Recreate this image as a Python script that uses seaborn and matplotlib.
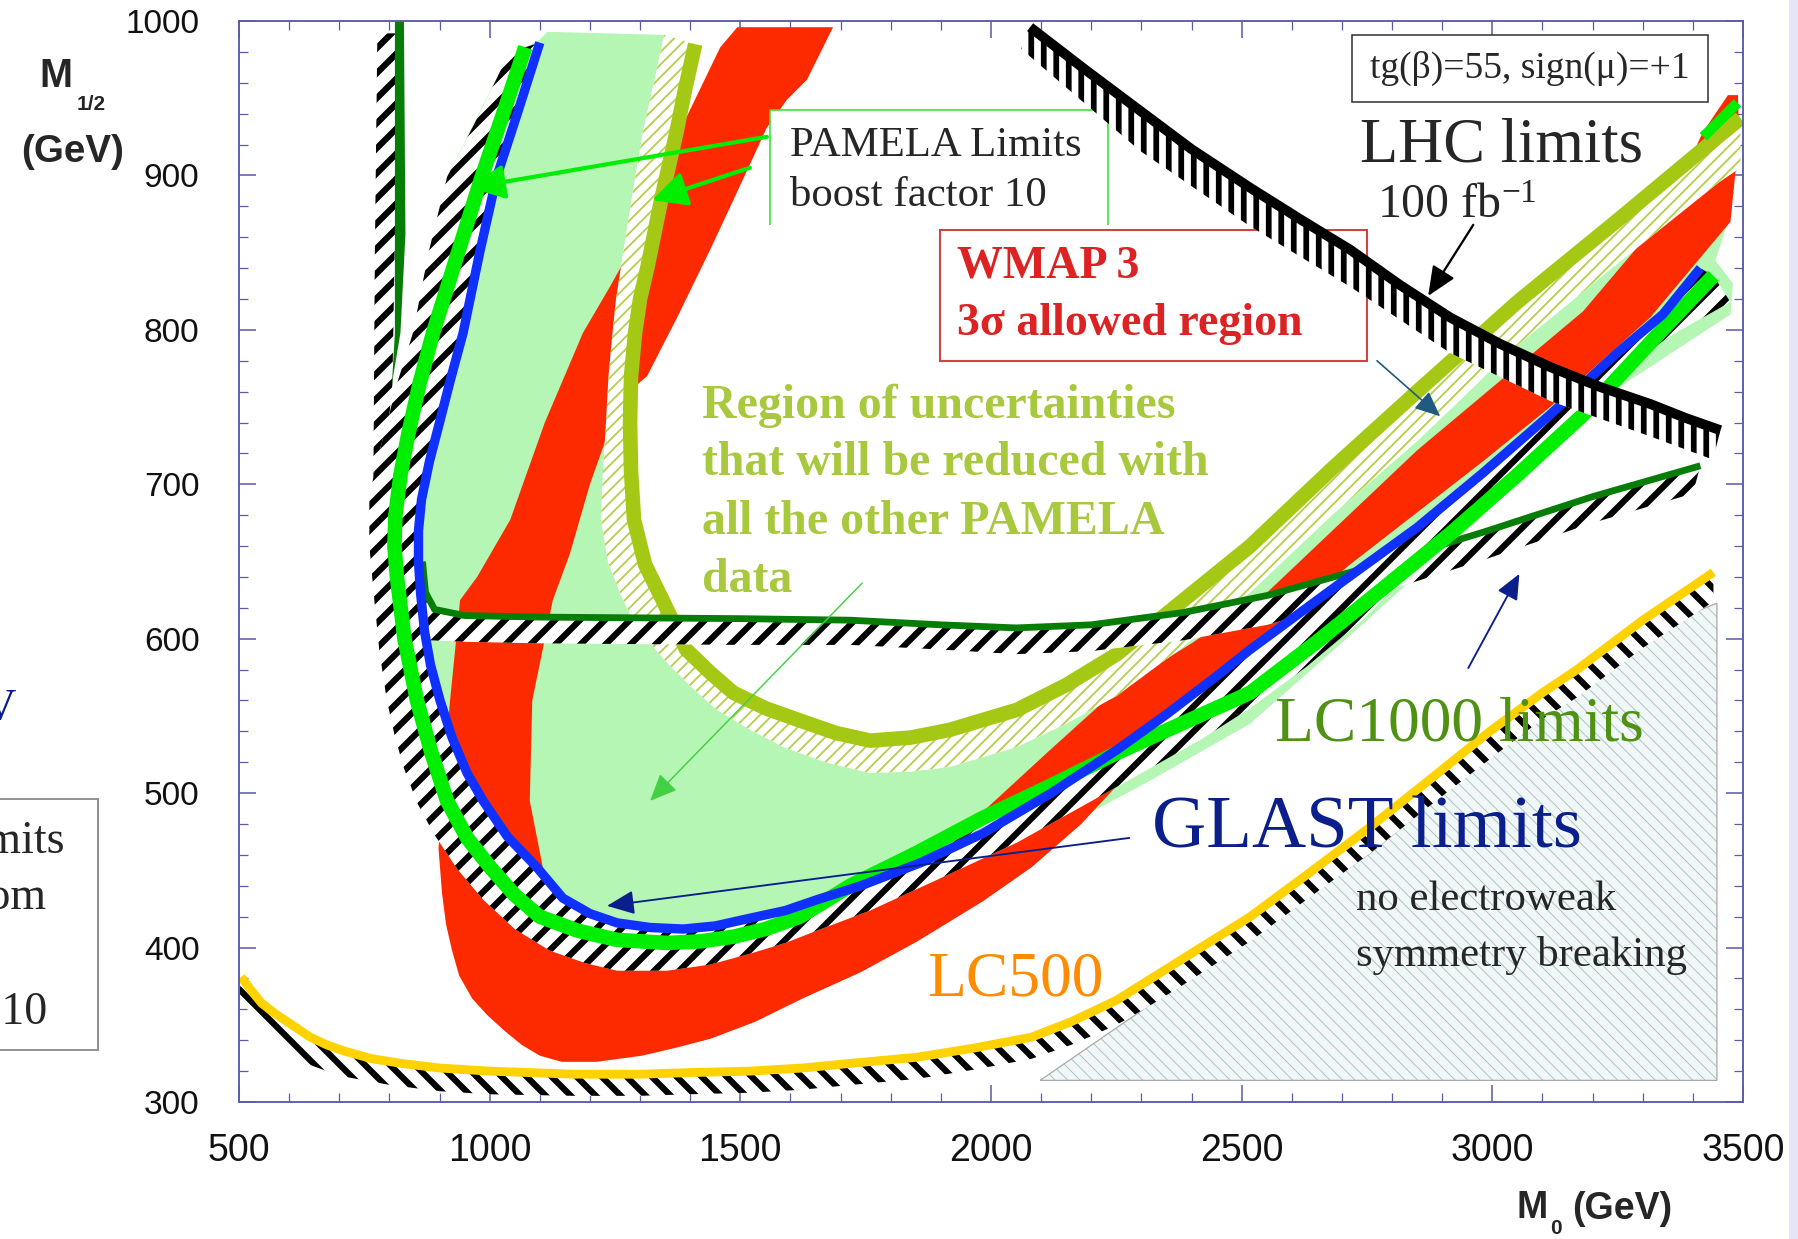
import matplotlib
matplotlib.use("Agg")
import matplotlib.pyplot as plt
import seaborn as sns
from matplotlib.patches import Rectangle

# ---------------- data : (M0 [GeV], M1/2 [GeV]) ----------------
x_major = [500, 1000, 1500, 2000, 2500, 3000, 3500]
y_major = [300, 400, 500, 600, 700, 800, 900, 1000]
x_minor = list(range(500, 3501, 100))
y_minor = list(range(300, 1001, 20))

# WMAP 3 sigma allowed region (red band)
wmap_region = [(1494,996),(1460,983),(1393,938),(1346,905),(1300,863),(1240,828),(1186,798),(1110,740),
               (1041,677),(975,640),(941,625),(921,560),(905,500),(898,464),(905,435),(913,415),(925,398),
               (939,382),(965,367),(996,356),(1030,346),(1064,337),(1100,330),(1144,326),(1213,326),
               (1304,330),(1370,335),(1441,341),(1530,352),(1624,367),(1740,384),(1853,404),(1984,430),
               (2081,452),(2180,480),(2280,515),(2400,560),(2517,593),(2716,648),(2982,715),(3115,750),
               (3315,808),(3475,870),(3492,925),(3490,952),(3470,952),(3420,928),(3340,873),(3181,812),
               (2850,722),(2551,630),(2400,597),(2251,567),(2118,528),(1984,488),(1800,440),(1600,415),
               (1400,405),(1250,410),(1160,425),(1106,452),(1080,495),(1085,560),(1126,625),(1160,655),
               (1200,700),(1260,755),(1314,770),(1374,808),(1440,852),(1499,893),(1553,931),(1593,949),
               (1633,962),(1659,979),(1685,996)]

# olive boundary of the "region of uncertainties" and its hatched outer edge
olive_line = [(1410,985),(1390,956),(1372,927),(1342,884),(1315,841),(1300,820),(1290,798),(1282,770),
              (1280,740),(1282,708),(1288,677),(1310,648),(1345,625),(1392,593),(1440,578),(1486,565),
              (1550,555),(1619,547),(1690,539),(1759,534),(1840,536),(1918,541),(2052,554),(2150,570),
              (2251,590),(2384,625),(2517,660),(2680,710),(2850,760),(3050,818),(3250,871),(3450,925),
              (3495,937)]
olive_edge = [(1348,991),(1327,959),(1305,927),(1283,884),(1262,841),(1252,820),(1245,798),(1237,770),
              (1232,740),(1226,708),(1222,677),(1236,650),(1262,628),(1295,606),(1358,583),(1405,568),
              (1453,554),(1520,541),(1585,530),(1670,520),(1759,513),(1840,514),(1918,517),(2052,530),
              (2150,545),(2251,563),(2384,595),(2517,630),(2680,680),(2850,728),(3050,790),(3250,843),
              (3450,895),(3495,905)]

# light green PAMELA region (top, right end and lower boundary; upper boundary = olive_edge)
pamela_top = [(1100,988),(1115,993)]
pamela_right = [(3480,900),(3470,870),(3445,845),(3480,830)]
pamela_lower = [(3475,810),(3249,762),(2982,680),(2716,602),(2517,545),(2317,508),(2052,462),(1759,422),
                (1519,396),(1354,385),(1254,385),(1120,398),(987,431),(888,474),(828,517),(795,560),
                (770,625),(760,690),(790,733),(847,798),(915,899),(1040,980),(1071,983)]

# PAMELA limit, boost factor 10 (bright green) and its hatched side
pamela_line = [(1071,983),(1028,941),(984,899),(935,848),(887,798),(860,765),(838,733),(822,706),
               (812,680),(810,660),(815,640),(830,600),(855,560),(883,527),(915,495),(955,471),
               (1001,452),(1050,434),(1100,420),(1175,411),(1254,405),(1354,403),(1420,404),(1486,407),
               (1550,412),(1619,420),(1719,440),(1850,461),(1984,484),(2120,505),(2251,526),(2380,545),
               (2517,565),(2650,598),(2780,632),(2916,668),(3050,706),(3181,745),(3310,790),(3441,835)]
pamela_outer = [(1040,980),(975,937),(915,899),(878,850),(847,798),(815,765),(790,733),(772,712),
                (760,690),(760,660),(770,625),(780,592),(795,560),(810,538),(828,517),(855,494),
                (888,474),(935,451),(987,431),(1050,412),(1120,398),(1190,390),(1254,385),(1354,385),
                (1440,389),(1519,396),(1590,403),(1653,411),(1759,424),(1900,445),(2052,468),(2190,493),
                (2317,516),(2420,535),(2517,555),(2630,582),(2740,612),(2860,650),(2982,690),(3120,732),
                (3249,772),(3360,797),(3475,818)]
pamela_tip = [(3421,925),(3489,947)]

# GLAST limit (blue)
glast_line = [(1100,986),(1057,942),(1014,899),(980,850),(947,798),(922,768),(900,740),(880,715),
              (864,690),(858,670),(858,650),(862,630),(870,605),(882,583),(901,560),(925,536),(955,513),
              (987,495),(1035,472),(1094,452),(1146,432),(1200,422),(1254,416),(1320,413),(1386,412),
              (1450,414),(1519,419),(1590,424),(1653,431),(1740,440),(1860,455),(1984,474),(2120,500),
              (2251,528),(2350,551),(2451,576),(2517,593),(2680,632),(2850,672),(2980,707),(3115,745),
              (3249,785),(3340,810),(3415,840)]

# LC1000 limits (dark green): left spike, its hatch, horizontal branch and its hatch
lc1000_spike = [(811,1000),(829,1000),(832,862),(822,798),(805,765),(811,798)]
lc1000_spike_hatch = [(776,992),(813,992),(811,860),(806,765),(800,745),(790,725),(768,700),(771,850)]
lc1000_line = [(866,650),(872,630),(890,619),(950,615),(1100,614),(1500,613),(1719,612),(1900,609),
               (2050,607),(2200,609),(2384,617),(2551,628),(2750,646),(2982,669),(3200,692),(3415,712)]
lc1000_lower = [(3400,694),(3200,675),(2982,651),(2750,627),(2551,609),(2384,599),(2200,592),(2050,590),
                (1900,593),(1719,596),(1500,596),(1100,597),(950,598),(880,599)]

# LC500 (yellow) and its hatch
lc500_line = [(504,381),(525,372),(545,364),(573,357),(610,349),(642,342),(675,337),(710,333),(765,328),
              (824,325),(900,322),(1000,320),(1167,318),(1300,318),(1396,319),(1519,320),(1624,322),
              (1719,325),(1853,329),(1967,335),(2081,342),(2160,352),(2251,366),(2310,378),(2384,393),
              (2517,420),(2650,452),(2756,478),(2880,510),(2995,540),(3100,565),(3169,580),(3300,612),
              (3441,643)]
lc500_lower = [(3441,624),(3300,594),(3169,562),(3100,548),(2995,522),(2880,493),(2756,461),(2650,436),
               (2517,404),(2384,376),(2310,361),(2251,350),(2160,337),(2081,328),(1967,321),(1853,315),
               (1719,311),(1624,308),(1519,306),(1396,305),(1300,304),(1167,304),(1000,305),(900,307),
               (802,311),(700,317),(642,324),(600,332),(550,348),(500,366)]

# no electroweak symmetry breaking region
no_ewsb = [(2098,314),(2756,461),(3150,565),(3350,610),(3448,623),(3448,314)]

# LHC limits 100 fb-1 (black) and its comb
lhc_line = [(2078,996),(2190,968),(2297,942),(2400,917),(2517,892),(2620,871),(2716,852),(2816,829),
            (2916,808),(3015,791),(3115,776),(3215,763),(3315,752),(3385,743),(3455,735)]
lhc_lower = [(3440,716),(3315,731),(3115,754),(2916,785),(2716,828),(2517,867),(2297,916),(2060,982)]

# annotation arrows: (tail, head)
arrow_pamela_1 = [(1553,925),(961,892)]
arrow_pamela_2 = [(1519,905),(1324,884)]
arrow_lhc = [(2962,868),(2872,822)]
arrow_wmap = [(2770,780),(2896,744)]
arrow_region = [(1743,636),(1320,495)]
arrow_lc1000 = [(2952,581),(3054,642)]
arrow_glast = [(2276,471),(1234,427)]

# ---------------- style ----------------
sns.set_theme(style="white")
plt.rcParams['font.family'] = ['Liberation Sans', 'DejaVu Sans']
plt.rcParams['mathtext.fontset'] = 'custom'
plt.rcParams['mathtext.rm'] = 'Liberation Serif'
plt.rcParams['mathtext.it'] = 'Liberation Serif:italic'
SERIF = ['Liberation Serif', 'DejaVu Serif']

RED = '#fd2a00'
LIGHTGREEN = '#b5f6b5'
OLIVE = '#a5c814'
OLIVE_H = '#b8cf50'
GREEN = '#00ee00'
BLUE = '#1030ff'
DKGREEN = '#067d06'
YELLOW = '#ffd200'
NAVY = '#0a1e8c'
FRAME = '#5b5ba8'

DPI = 75
W, H = 1798, 1239
fig = plt.figure(figsize=(W / DPI, H / DPI), dpi=DPI, facecolor='white')
ax = fig.add_axes([239 / W, 1 - 1102 / H, (1743 - 239) / W, (1102 - 21) / H])
ax.set_facecolor('white')


def xy(pts):
    return [p[0] for p in pts], [p[1] for p in pts]


def filled(pts, color, z):
    xs, ys = xy(pts)
    ax.fill(xs, ys, facecolor=color, edgecolor='none', linewidth=0, zorder=z)


def hatched(pts, hatch, color, hlw, z, face='white'):
    plt.rcParams['hatch.linewidth'] = hlw
    xs, ys = xy(pts)
    p = ax.fill(xs, ys, facecolor=face, edgecolor=color, linewidth=0, hatch=hatch, zorder=z)[0]
    if hasattr(p, 'set_hatch_linewidth'):
        p.set_hatch_linewidth(hlw)
    return p


def curve(pts, color, lw, z, cap='butt'):
    xs, ys = xy(pts)
    sns.lineplot(x=xs, y=ys, sort=False, estimator=None, color=color, linewidth=lw, ax=ax,
                 zorder=z, solid_capstyle=cap, solid_joinstyle='round', legend=False)


def arrow(pair, color, lw, scale, z=30, hl=0.8, hw=0.35):
    (x0, y0), (x1, y1) = pair
    ax.annotate('', xy=(x1, y1), xytext=(x0, y0), zorder=z,
                arrowprops=dict(arrowstyle=f'-|>,head_length={hl},head_width={hw}', color=color,
                                lw=lw, mutation_scale=scale, shrinkA=0, shrinkB=0))


# ---------------- regions ----------------
filled(pamela_top + olive_edge + pamela_right + pamela_lower, LIGHTGREEN, 1)
filled(wmap_region, RED, 2)
hatched(olive_line + olive_edge[::-1], '//', OLIVE_H, 1.8, 3)
curve(olive_line, OLIVE, 14, 4)
hatched(no_ewsb, '\\\\', '#a6c2c6', 0.9, 3, face='#f1f7f7')
xs, ys = xy(no_ewsb)
ax.fill(xs, ys, facecolor='none', edgecolor='#a9a9a9', linewidth=1.2, zorder=3)

hatched(lc1000_line + lc1000_lower, '/', 'black', 6.0, 5)
curve(lc1000_line, DKGREEN, 6.5, 6)
hatched(lc1000_spike_hatch, '/', 'black', 6.0, 5)
filled(lc1000_spike, DKGREEN, 6)

hatched(pamela_line + pamela_outer[::-1], '/', 'black', 6.0, 7)
hatched(glast_line + pamela_line[::-1], '/', 'black', 6.0, 7)
curve(pamela_line, GREEN, 14, 8)
curve(pamela_tip, GREEN, 10, 8)
curve(glast_line, BLUE, 9, 9)

hatched(lc500_line + lc500_lower, '\\', 'black', 6.0, 7)
curve(lc500_line, YELLOW, 8.5, 8)

hatched(lhc_line + lhc_lower, '|', 'black', 5.5, 25)
curve(lhc_line, 'black', 9.5, 26)

# ---------------- boxes & texts ----------------
ax.add_patch(Rectangle((2720, 947.5), 711, 43.5, facecolor='white', edgecolor='#333333', lw=1.5, zorder=20))
ax.text(3075, 969, 'tg(β)=55, sign(μ)=+1', family=SERIF, fontsize=36, ha='center', va='center', zorder=21)

ax.add_patch(Rectangle((1559, 850), 675, 92.4, facecolor='white', edgecolor='#30e030', lw=1.5, zorder=20))
ax.text(1599, 919.5, 'PAMELA Limits', family=SERIF, fontsize=41, ha='left', va='center', zorder=21)
ax.text(1599, 887, 'boost factor 10', family=SERIF, fontsize=41, ha='left', va='center', zorder=21)
ax.add_patch(Rectangle((1480, 779), 1270, 89, facecolor='white', edgecolor='none', zorder=22))
ax.add_patch(Rectangle((1898, 780), 852, 84.6, facecolor='white', edgecolor='#cc4444', lw=2, zorder=23))
ax.text(1932, 841, 'WMAP 3', family=SERIF, fontsize=44, weight='bold', color='#dc2222',
        ha='left', va='center', zorder=24)
ax.text(1932, 804, '3σ allowed region', family=SERIF, fontsize=44, weight='bold', color='#dc2222',
        ha='left', va='center', zorder=24)

region_lines = ['Region of uncertainties', 'that will be reduced with', 'all the other PAMELA', 'data']
for txt, yy in zip(region_lines, [751, 714, 675.5, 638]):
    ax.text(1424, yy, txt, family=SERIF, fontsize=46, weight='bold', color='#a8c83e',
            ha='left', va='center', zorder=10)

ax.text(2736, 919, 'LHC limits', family=SERIF, fontsize=60, ha='left', va='center', zorder=27)
ax.text(2770, 880, r'100 fb$^{-1}$', family=SERIF, fontsize=46, ha='left', va='center', zorder=27)
ax.text(2567, 544, 'LC1000 limits', family=SERIF, fontsize=61, color='#4f9112', ha='left', va='center', zorder=10)
ax.text(2321, 476, 'GLAST limits', family=SERIF, fontsize=72, color=NAVY, ha='left', va='center', zorder=10)
ax.text(1872, 379, 'LC500', family=SERIF, fontsize=61, color='#ff8c00', ha='left', va='center', zorder=10)
ax.text(2728, 431, 'no electroweak', family=SERIF, fontsize=41, ha='left', va='center', zorder=10)
ax.text(2728, 395, 'symmetry breaking', family=SERIF, fontsize=41, ha='left', va='center', zorder=10)

# arrows
arrow(arrow_pamela_1, GREEN, 4.0, 40, hl=0.7, hw=0.35)
arrow(arrow_pamela_2, GREEN, 4.0, 40, hl=0.7, hw=0.35)
arrow(arrow_lhc, 'black', 2.2, 30)
arrow(arrow_wmap, '#1f5a80', 1.6, 26)
arrow(arrow_region, '#44d044', 1.4, 28)
arrow(arrow_lc1000, NAVY, 1.8, 26)
arrow(arrow_glast, NAVY, 1.8, 28)

# ---------------- axes ----------------
ax.set_xlim(500, 3500)
ax.set_ylim(300, 1000)
ax.set_xticks(x_major)
ax.set_xticks(x_minor, minor=True)
ax.set_yticks(y_major)
ax.set_yticks(y_minor, minor=True)
ax.set_xlabel('')
ax.set_ylabel('')
ax.tick_params(which='both', direction='in', bottom=True, top=True, left=True, right=True, color=FRAME)
ax.tick_params(which='major', length=16, width=1.5)
ax.tick_params(which='minor', length=9, width=1.2)
ax.tick_params(axis='y', which='major', pad=38, labelsize=32, labelcolor='#111111')
ax.tick_params(axis='x', which='major', pad=30, labelsize=36, labelcolor='#111111')
for lab in ax.get_xticklabels() + ax.get_yticklabels():
    lab.set_family(['Liberation Sans', 'DejaVu Sans'])
for s in ax.spines.values():
    s.set_color(FRAME)
    s.set_linewidth(1.8)
    s.set_zorder(40)


def fxy(px, py):
    return px / W, 1 - py / H


# axis titles
fig.text(*fxy(56, 76), 'M', fontsize=38, weight='bold', ha='center', va='center')
fig.text(*fxy(91, 104), '1/2', fontsize=20, weight='bold', ha='center', va='center')
fig.text(*fxy(73, 152), '(GeV)', fontsize=37, weight='bold', ha='center', va='center')
fig.text(*fxy(1532, 1208), 'M', fontsize=36, weight='bold', ha='center', va='center')
fig.text(*fxy(1556, 1228), '0', fontsize=20, weight='bold', ha='center', va='center')
fig.text(*fxy(1572, 1209), '(GeV)', fontsize=36, weight='bold', ha='left', va='center')

# fragments of the neighbouring panel cut by the left edge
fig.text(*fxy(17, 708), 'GeV', family=SERIF, fontsize=43, color=NAVY, ha='right', va='center')
fig.add_artist(Rectangle(fxy(-30, 1050), (98 + 30) / W, (1050 - 799) / H, transform=fig.transFigure,
                         fill=False, edgecolor='#8c8c8c', lw=1.8))
fig.text(*fxy(65, 842), 'limits', family=SERIF, fontsize=44, ha='right', va='center')
fig.text(*fxy(47, 898), 'from', family=SERIF, fontsize=44, ha='right', va='center')
fig.text(*fxy(47, 1013), 'factor 10', family=SERIF, fontsize=44, ha='right', va='center')
fig.add_artist(Rectangle((1789 / W, 0), 9 / W, 1, transform=fig.transFigure, color='#e6e4f7', zorder=0))

fig.savefig('out.png', dpi=DPI, facecolor='white')
